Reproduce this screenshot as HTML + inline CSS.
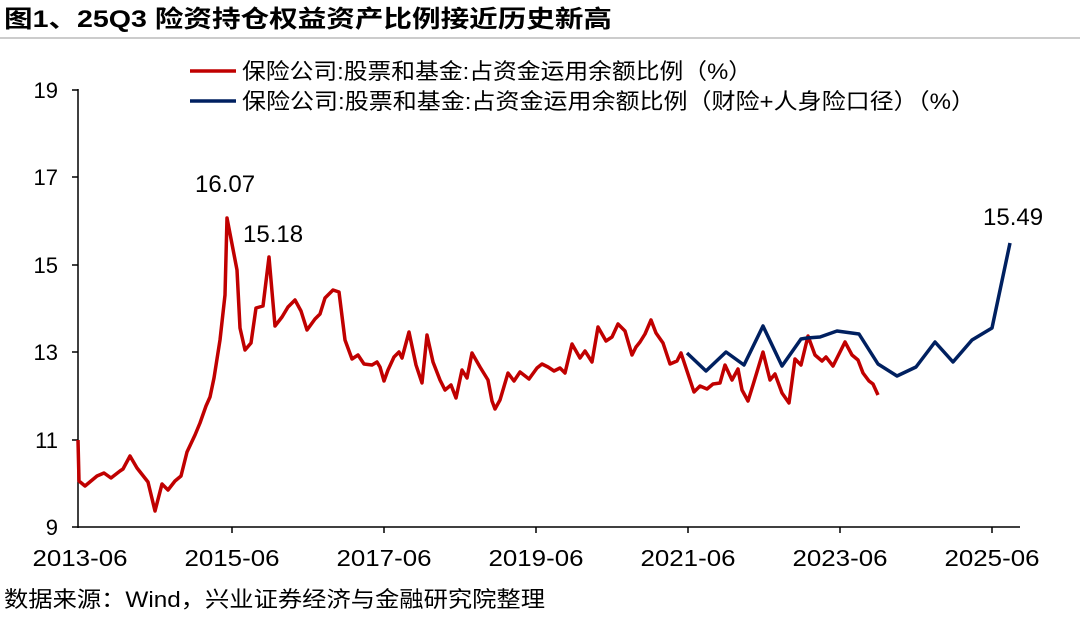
<!DOCTYPE html>
<html><head><meta charset="utf-8"><style>
body{margin:0;background:#fff;}
svg text{font-family:"Liberation Sans","Noto Sans CJK SC",sans-serif;}
</style></head><body>
<svg width="1080" height="612" viewBox="0 0 1080 612" xmlns="http://www.w3.org/2000/svg">
<text x="4" y="27" font-size="24" font-weight="bold" fill="#000" textLength="608" lengthAdjust="spacingAndGlyphs">图1、25Q3 险资持仓权益资产比例接近历史新高</text>
<line x1="0" y1="38" x2="1080" y2="38" stroke="#999" stroke-width="1"/>
<g font-size="22" fill="#000" text-anchor="end">
<text x="58" y="98">19</text><text x="58" y="185">17</text><text x="58" y="273">15</text>
<text x="58" y="360">13</text><text x="58" y="448">11</text><text x="58" y="535">9</text>
</g>
<g stroke="#000" stroke-width="1.5">
<line x1="78" y1="89" x2="78" y2="528"/>
<line x1="78" y1="527" x2="1020" y2="527"/>
<line x1="72" y1="90" x2="78" y2="90"/><line x1="72" y1="177" x2="78" y2="177"/>
<line x1="72" y1="265" x2="78" y2="265"/><line x1="72" y1="352" x2="78" y2="352"/>
<line x1="72" y1="440" x2="78" y2="440"/><line x1="72" y1="527" x2="78" y2="527"/>
<line x1="232" y1="527" x2="232" y2="533"/><line x1="384" y1="527" x2="384" y2="533"/>
<line x1="536" y1="527" x2="536" y2="533"/><line x1="688" y1="527" x2="688" y2="533"/>
<line x1="840" y1="527" x2="840" y2="533"/><line x1="992" y1="527" x2="992" y2="533"/>
</g>
<g font-size="23" fill="#000" text-anchor="middle">
<text x="80" y="566" textLength="95" lengthAdjust="spacingAndGlyphs">2013-06</text><text x="232" y="566" textLength="95" lengthAdjust="spacingAndGlyphs">2015-06</text><text x="384" y="566" textLength="95" lengthAdjust="spacingAndGlyphs">2017-06</text>
<text x="536" y="566" textLength="95" lengthAdjust="spacingAndGlyphs">2019-06</text><text x="688" y="566" textLength="95" lengthAdjust="spacingAndGlyphs">2021-06</text><text x="840" y="566" textLength="95" lengthAdjust="spacingAndGlyphs">2023-06</text><text x="992" y="566" textLength="95" lengthAdjust="spacingAndGlyphs">2025-06</text>
</g>
<polyline fill="none" stroke="#C00000" stroke-width="3.5" stroke-linejoin="round" points="78,440 79,481 85,486 97,476 104,473 111,478 120,471 123,469 130,456 137,468 148,482 155,511 162,484 168,490 175,481 181,476 187,452 195,435 200,423 206,406 210,397 214,378 220,340 225,295 227,218 237,270 240,328 245,350 251,343 256,308 263,306 269,257 275,326 282,317 288,307 295,300 301,311 307,330 315,319 320,314 325,298 333,290 339,292 345,340 352,359 358,355 364,364 372,365 377,362 380,367 384,381 388,370 394,357 399,352 402,358 409,332 416,365 422,383 427,335 433,362 440,380 445,390 451,385 456,398 462,370 467,378 472,353 480,367 488,380 492,401 495,409 500,400 508,373 514,381 520,372 529,379 537,368 542,364 548,367 554,371 560,368 565,373 572,344 580,358 585,351 592,362 598,327 606,341 612,337 618,324 625,331 632,355 636,347 640,342 645,334 651,320 656,333 663,343 670,364 677,361 681,353 694,392 700,386 707,389 713,384 720,383 725,365 732,380 738,369 742,390 748,401 753,385 763,352 770,380 775,374 782,393 789,403 795,359 801,365 808,336 815,355 822,361 826,357 833,366 845,342 852,355 858,360 863,373 869,381 873,384 878,395"/>
<polyline fill="none" stroke="#002060" stroke-width="3.5" stroke-linejoin="round" points="687,353 706,371 726,352 744,365 763,326 782,366 801,339 807,338 820,337 837,331 859,334 878,364 897,376 916,367 935,342 953,362 972,340 992,328 1010,243"/>
<g font-size="24" fill="#000">
<text x="195" y="192">16.07</text><text x="243" y="242">15.18</text><text x="983" y="225">15.49</text>
</g>
<line x1="190" y1="71" x2="236" y2="71" stroke="#C00000" stroke-width="3.5"/>
<line x1="190" y1="101" x2="236" y2="101" stroke="#002060" stroke-width="3.5"/>
<g font-size="22" fill="#000">
<text x="242" y="79" textLength="510" lengthAdjust="spacingAndGlyphs">保险公司:股票和基金:占资金运用余额比例（%）</text>
<text x="242" y="109" textLength="733" lengthAdjust="spacingAndGlyphs">保险公司:股票和基金:占资金运用余额比例（财险+人身险口径）（%）</text>
</g>
<text x="4" y="607" font-size="22" fill="#000" textLength="541" lengthAdjust="spacingAndGlyphs">数据来源：Wind，兴业证券经济与金融研究院整理</text>
</svg>
</body></html>
